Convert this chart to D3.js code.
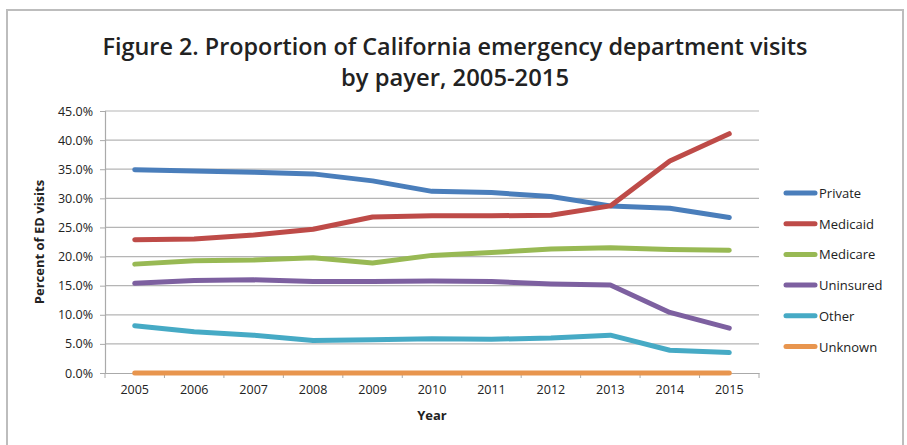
<!DOCTYPE html>
<html>
<head>
<meta charset="utf-8">
<script src="https://cdn.jsdelivr.net/npm/d3@7"></script>
<style>
  body { margin: 0; background: #fff; }
  svg { display: block; }
  text { font-family: "Open Sans", "DejaVu Sans", sans-serif; fill: #222; }
</style>
</head>
<body>
<svg></svg>
<script>
var years = ["2005", "2006", "2007", "2008", "2009", "2010", "2011", "2012", "2013", "2014", "2015"];
var payers = ["Private", "Medicaid", "Medicare", "Uninsured", "Other", "Unknown"];
var colors = ["#4a7ebb", "#be4b48", "#98b954", "#7d60a0", "#46aac5", "#e8954e"];

// percent of ED visits, one list per payer
var privateVals   = [34.9, 34.7, 34.5, 34.2, 33.0, 31.2, 31.0, 30.3, 28.7, 28.3, 26.7];
var medicaidVals  = [22.9, 23.0, 23.7, 24.7, 26.8, 27.0, 27.0, 27.1, 28.7, 36.4, 41.1];
var medicareVals  = [18.7, 19.3, 19.4, 19.8, 18.9, 20.2, 20.7, 21.3, 21.5, 21.2, 21.1];
var uninsuredVals = [15.4, 15.9, 16.0, 15.7, 15.7, 15.8, 15.7, 15.3, 15.1, 10.4, 7.7];
var otherVals     = [8.1, 7.1, 6.5, 5.6, 5.7, 5.9, 5.8, 6.0, 6.5, 3.9, 3.5];
var unknownVals   = [0, 0, 0, 0, 0, 0, 0, 0, 0, 0, 0];

var yTicks = [0, 5, 10, 15, 20, 25, 30, 35, 40, 45];

var series = [privateVals, medicaidVals, medicareVals, uninsuredVals, otherVals, unknownVals]
  .map(function(v, i) { return { name: payers[i], color: colors[i], values: v }; });

var W = 907, H = 445;
var margin = { left: 105, right: 148, top: 111, bottom: 72 };
var width = W - margin.left - margin.right,
    height = H - margin.top - margin.bottom;

var svg = d3.select("svg").attr("width", W).attr("height", H);

// outer chart frame
svg.append("path")
  .attr("d", "M7,445 V10 H903 V445")
  .attr("fill", "none")
  .attr("stroke", "#bdbdbd")
  .attr("stroke-width", 2);

svg.append("text")
  .attr("x", 455).attr("y", 55)
  .attr("text-anchor", "middle")
  .attr("font-size", 24).attr("font-weight", 600)
  .attr("textLength", 705).attr("lengthAdjust", "spacingAndGlyphs")
  .text("Figure 2. Proportion of California emergency department visits");
svg.append("text")
  .attr("x", 455).attr("y", 86)
  .attr("text-anchor", "middle")
  .attr("font-size", 24).attr("font-weight", 600)
  .attr("textLength", 228).attr("lengthAdjust", "spacingAndGlyphs")
  .text("by payer, 2005-2015");

var g = svg.append("g")
  .attr("transform", "translate(" + margin.left + "," + margin.top + ")");

var x = d3.scaleBand().domain(years).range([0, width]);
var y = d3.scaleLinear().domain([0, 45]).range([height, 0]);

// gridlines
g.selectAll(".grid")
  .data(yTicks.slice(1))
  .enter().append("line")
    .attr("x1", 0).attr("x2", width)
    .attr("y1", function(d) { return y(d); })
    .attr("y2", function(d) { return y(d); })
    .attr("stroke", "#b5b5b5").attr("stroke-width", 1.2);

var yAxis = g.append("g")
  .call(d3.axisLeft(y).tickValues(yTicks).tickSize(5).tickPadding(7)
    .tickFormat(function(d) { return d.toFixed(1) + "%"; }));
yAxis.select(".domain").attr("stroke", "#aaa").attr("stroke-width", 1.2);
yAxis.selectAll(".tick line").attr("stroke", "#aaa");
yAxis.selectAll("text").attr("font-size", 12.5).attr("fill", "#333");

var xAxis = g.append("g")
  .attr("transform", "translate(0," + height + ")")
  .call(d3.axisBottom(x).tickSize(0).tickPadding(12));
xAxis.select(".domain").attr("stroke", "#aaa").attr("stroke-width", 1.2);
xAxis.selectAll("text").attr("font-size", 12.5).attr("fill", "#333");

// tick marks between the year bands
g.selectAll(".xtick")
  .data(d3.range(years.length + 1))
  .enter().append("line")
    .attr("x1", function(i) { return i * x.step(); })
    .attr("x2", function(i) { return i * x.step(); })
    .attr("y1", height).attr("y2", height + 5)
    .attr("stroke", "#aaa");

var line = d3.line()
  .x(function(d, i) { return x(years[i]) + x.bandwidth() / 2; })
  .y(function(d) { return y(d); });

g.selectAll(".series")
  .data(series)
  .enter().append("path")
    .attr("fill", "none")
    .attr("stroke", function(d) { return d.color; })
    .attr("stroke-width", 5)
    .attr("stroke-linecap", "round")
    .attr("stroke-linejoin", "round")
    .attr("d", function(d) { return line(d.values); });

svg.append("text")
  .attr("x", margin.left + width / 2).attr("y", 420)
  .attr("text-anchor", "middle")
  .attr("font-size", 13).attr("font-weight", 700)
  .text("Year");

svg.append("text")
  .attr("transform", "translate(44," + (margin.top + height / 2) + ") rotate(-90)")
  .attr("text-anchor", "middle")
  .attr("font-size", 13).attr("font-weight", 700)
  .text("Percent of ED visits");

// legend
var legend = svg.selectAll(".legend")
  .data(series)
  .enter().append("g")
    .attr("transform", function(d, i) { return "translate(786," + (193 + i * 30.7) + ")"; });
legend.append("line")
  .attr("x1", 0).attr("x2", 29)
  .attr("stroke", function(d) { return d.color; })
  .attr("stroke-width", 5).attr("stroke-linecap", "round");
legend.append("text")
  .attr("x", 33).attr("y", 5)
  .attr("font-size", 13).attr("fill", "#333")
  .text(function(d) { return d.name; });
</script>
</body>
</html>
